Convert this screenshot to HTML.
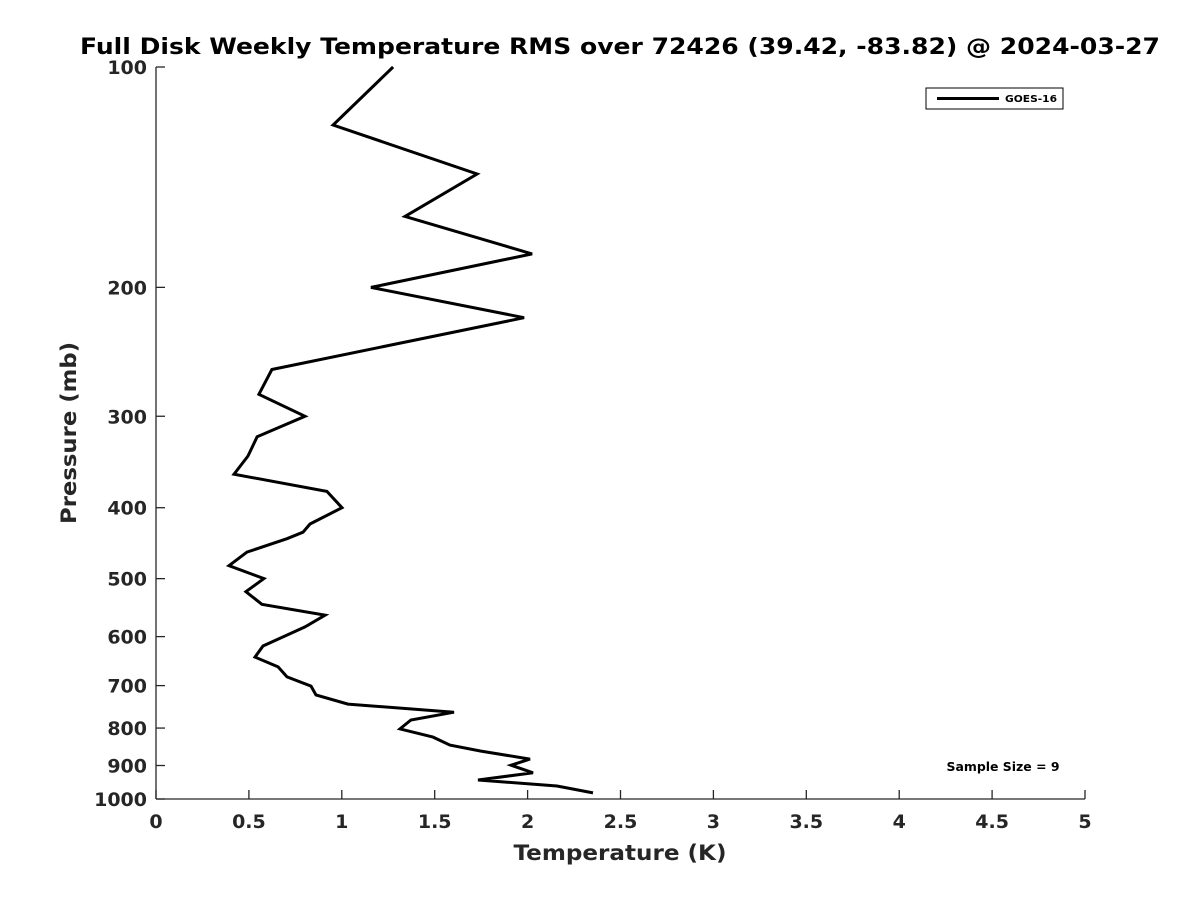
<!DOCTYPE html>
<html><head><meta charset="utf-8"><style>
body{margin:0;background:#fff;}
svg{display:block;font-family:"DejaVu Sans","Liberation Sans",sans-serif;}
</style></head><body>
<svg id="chart" width="1200" height="900">
<text x="620" y="54" text-anchor="middle" font-size="22" font-weight="bold" fill="#000" textLength="1080" lengthAdjust="spacingAndGlyphs">Full Disk Weekly Temperature RMS over 72426 (39.42, -83.82) @ 2024-03-27</text>
<g id="axes"></g>
<path id="series" fill="none" stroke="#000" stroke-width="3" stroke-linejoin="miter"/>
<g>
<rect x="926" y="88" width="137" height="21" fill="#fff" stroke="#000" stroke-width="1"/>
<line x1="937" y1="98.5" x2="999" y2="98.5" stroke="#000" stroke-width="3"/>
<text x="1005" y="102" font-size="10" font-weight="bold" textLength="52" lengthAdjust="spacingAndGlyphs">GOES-16</text>
</g>
<text x="1003" y="771" text-anchor="middle" font-size="12" font-weight="bold" textLength="113" lengthAdjust="spacingAndGlyphs">Sample Size = 9</text>
<text x="620" y="860" text-anchor="middle" font-size="21" font-weight="bold" fill="#262626" textLength="213" lengthAdjust="spacingAndGlyphs">Temperature (K)</text>
<text transform="translate(76,433) rotate(-90)" text-anchor="middle" font-size="21" font-weight="bold" fill="#262626" textLength="182" lengthAdjust="spacingAndGlyphs">Pressure (mb)</text>
</svg>
<script>
const temps=[1.276,0.953,1.728,1.340,2.024,1.157,1.981,0.624,0.554,0.802,0.544,0.495,0.420,0.920,1.001,0.829,0.791,0.705,0.490,0.393,0.581,0.484,0.570,0.910,0.802,0.576,0.533,0.657,0.705,0.834,0.861,1.033,1.604,1.372,1.313,1.491,1.582,1.749,2.013,1.911,2.029,1.733,2.158,2.352];
const pressures=[100,120,140,160,180,200,220,259,280,300,320,340,360,380,400,421,432,441,460,480,500,521,542,561,582,618,640,660,681,701,721,742,761,780,802,823,844,860,882,899,921,942,960,981];
const xTicks=[0,0.5,1,1.5,2,2.5,3,3.5,4,4.5,5];
const xTickLabels=["0","0.5","1","1.5","2","2.5","3","3.5","4","4.5","5"];
const yTicks=[100,200,300,400,500,600,700,800,900,1000];
const yTickLabels=["100","200","300","400","500","600","700","800","900","1000"];
const X0=156,X1=1085,Y0=67,Y1=799;
function xs(v){return X0+(v-0)/(5-0)*(X1-X0);}
function ys(p){return Y0+(Math.log10(p)-2)/(3-2)*(Y1-Y0);}
const NS="http://www.w3.org/2000/svg";
const ax=document.getElementById('axes');
function mk(t,a,parent){const e=document.createElementNS(NS,t);for(const k in a)e.setAttribute(k,a[k]);(parent||ax).appendChild(e);return e;}
let l=mk('line',{x1:X0,y1:Y0,x2:X0,y2:Y1,stroke:'#262626','stroke-width':1.3});


l=mk('line',{x1:X0,y1:Y1,x2:X1,y2:Y1,stroke:'#262626','stroke-width':1.3});


xTicks.forEach((v,i)=>{
 const x=xs(v);
 const t=mk('line',{x1:x,y1:Y1,x2:x,y2:Y1-9,stroke:'#262626','stroke-width':1.3});
 
 
 const tx=mk('text',{x:x,y:Y1+29,'text-anchor':'middle','font-size':19,'font-weight':'bold',fill:'#262626'});
 tx.textContent=xTickLabels[i];
 
 
});
yTicks.forEach((p,i)=>{
 const y=ys(p);
 const t=mk('line',{x1:X0,y1:y,x2:X0+9,y2:y,stroke:'#262626','stroke-width':1.3});
 
 
 const tx=mk('text',{x:X0-9,y:y+7,'text-anchor':'end','font-size':19,'font-weight':'bold',fill:'#262626'});
 tx.textContent=yTickLabels[i];
 
 
});
document.getElementById('series').setAttribute('d',temps.map((v,i)=>(i?'L':'M')+xs(v).toFixed(1)+','+ys(pressures[i]).toFixed(1)).join(''));
</script>
</body></html>
